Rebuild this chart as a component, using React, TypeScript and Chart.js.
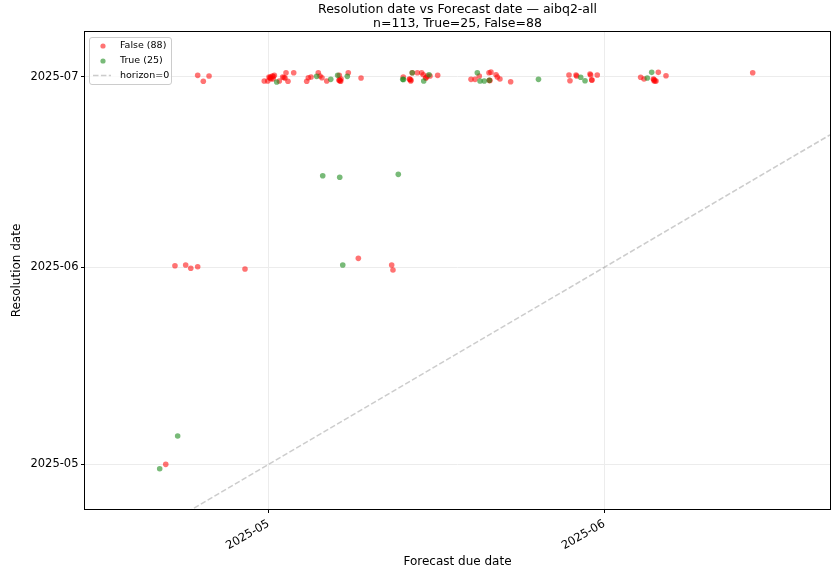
import React, { useEffect, useRef } from 'react';
import { Chart, registerables } from 'chart.js';

Chart.register(...registerables);

// All positions are days since 2025-05-01
const X_MIN = -16.97;
const X_MAX = 51.85;
const Y_MIN = -7.03;
const Y_MAX = 68.04;

const xTickValues = [0, 31];
const xTickLabels = ['2025-05', '2025-06'];
const yTickValues = [0, 31, 61];
const yTickLabels = ['2025-05', '2025-06', '2025-07'];

const falseX = [
  -6.56, -6.04, -5.51,
  -0.41, -0.09, 0.12, 0.33, 0.52, 0.21, 0.98, 1.29, 1.51, 1.6, 1.78, 2.31, 0.03, 0.4,
  3.51, 3.66, 3.91, 4.58, 4.74, 4.92, 5.36, 6.52, 6.49, 6.65, 6.68, 7.35, 8.53,
  12.43, 13.05, 13.12, 13.26, 13.73, 14.13, 14.28, 14.5, 14.65, 14.9, 15.61,
  18.69, 19.06, 19.45, 20.35, 20.53, 20.38, 21.0, 21.12, 21.36, 22.35,
  27.74, 27.83, 28.39, 28.45, 29.68, 29.74, 29.84, 30.35,
  34.36, 34.67, 35.53, 35.59, 35.78, 35.99, 36.7,
  44.71,
  -8.66, -7.67, -7.2, -6.56, -2.19, 8.28, 11.36, 11.48,
  -9.51,
  6.59, 0.17, 0.44, 13.14, 20.44, 35.68, 29.86, 1.41, 14.53,
  6.55, 35.6, 13.0,
];
const falseY = [
  61.22, 60.28, 61.11,
  60.32, 60.32, 60.8, 61.11, 61.22, 60.67, 60.32, 60.95, 60.8, 61.63, 60.28, 61.63, 60.95, 60.64,
  60.28, 60.84, 60.95, 61.63, 61.11, 60.84, 60.32, 61.22, 60.43, 60.28, 60.64, 61.63, 60.8,
  60.95, 60.59, 60.32, 61.63, 61.63, 61.63, 61.32, 60.84, 61.11, 61.11, 61.22,
  60.59, 60.59, 61.11, 61.63, 61.72, 60.43, 61.32, 60.95, 60.64, 60.21,
  61.27, 60.37, 61.27, 61.11, 61.43, 61.27, 60.48, 61.27,
  60.91, 60.64, 60.64, 60.37, 60.32, 61.69, 61.16,
  61.63,
  31.26, 31.37, 30.85, 31.1, 30.74, 32.42, 31.37, 30.58,
  0.0,
  60.36, 60.95, 61.03, 60.48, 60.4, 60.32, 60.48, 60.88, 60.8,
  60.5, 60.55, 60.62,
];

const trueX = [
  4.99, 6.56, 11.97,
  6.84,
  -8.41, -10.07,
  0.74, 4.43, 5.73, 6.37, 7.26, 12.38, 13.26, 14.32, 14.81, 19.27, 19.52, 19.91, 20.38,
  24.92, 28.82, 29.22, 34.97, 35.38,
  12.45,
];
const trueY = [
  45.42, 45.17, 45.64,
  31.37,
  4.45, -0.69,
  60.17, 61.06, 60.59, 61.22, 61.06, 60.59, 61.63, 60.32, 61.32, 61.63, 60.32, 60.32, 60.43,
  60.59, 60.91, 60.37, 60.8, 61.69,
  60.56,
];

const horizonX = [X_MIN, X_MAX];

const RED = 'rgba(255,0,0,0.55)';
const GREEN = 'rgba(30,140,30,0.6)';
const HORIZON = 'rgba(128,128,128,0.4)';
const FONT = '"DejaVu Sans", sans-serif';

const decorPlugin = {
  id: 'decor',
  afterDraw(chart: any) {
    const { ctx, chartArea } = chart;
    const { left, top, right, bottom } = chartArea;
    ctx.save();
    // frame
    ctx.strokeStyle = '#000';
    ctx.lineWidth = 1;
    ctx.strokeRect(Math.round(left) - 0.5, Math.round(top) - 0.5, Math.round(right - left) + 1, Math.round(bottom - top) + 1);

    // legend
    const lx = left + 4;
    const ly = top + 5;
    const lw = 82;
    const lh = 47;
    ctx.beginPath();
    ctx.roundRect(lx + 0.5, ly + 0.5, lw, lh, 2.5);
    ctx.fillStyle = 'rgba(255,255,255,0.8)';
    ctx.fill();
    ctx.strokeStyle = '#cccccc';
    ctx.lineWidth = 1;
    ctx.stroke();

    const rows = [ly + 9, ly + 24, ly + 38.5];
    ctx.fillStyle = RED;
    ctx.beginPath();
    ctx.arc(lx + 14, rows[0], 2.6, 0, Math.PI * 2);
    ctx.fill();
    ctx.fillStyle = GREEN;
    ctx.beginPath();
    ctx.arc(lx + 14, rows[1], 2.6, 0, Math.PI * 2);
    ctx.fill();
    ctx.strokeStyle = HORIZON;
    ctx.lineWidth = 1.5;
    ctx.setLineDash([5.5, 2.4]);
    ctx.beginPath();
    ctx.moveTo(lx + 4, rows[2]);
    ctx.lineTo(lx + 22, rows[2]);
    ctx.stroke();
    ctx.setLineDash([]);

    ctx.fillStyle = '#000';
    ctx.font = `9.5px ${FONT}`;
    ctx.textAlign = 'left';
    ctx.textBaseline = 'middle';
    ctx.fillText(`False (${falseX.length})`, lx + 31, rows[0]);
    ctx.fillText(`True (${trueX.length})`, lx + 31, rows[1]);
    ctx.fillText('horizon=0', lx + 31, rows[2]);

    // titles
    const cx = (left + right) / 2;
    ctx.textAlign = 'center';
    ctx.font = `12.5px ${FONT}`;
    ctx.fillText('Resolution date vs Forecast date \u2014 aibq2-all', cx, 9.5);
    ctx.fillText(
      `n=${falseX.length + trueX.length}, True=${trueX.length}, False=${falseX.length}`,
      cx,
      23.5
    );

    // axis titles
    ctx.font = `12px ${FONT}`;
    ctx.fillText('Forecast due date', cx, 562);
    ctx.translate(17, (top + bottom) / 2);
    ctx.rotate(-Math.PI / 2);
    ctx.fillText('Resolution date', 0, 0);
    ctx.restore();
  },
};

export default function App() {
  const ref = useRef<HTMLCanvasElement | null>(null);

  useEffect(() => {
    if (!ref.current) return;
    const falseData = falseX.map((x, i) => ({ x, y: falseY[i] }));
    const trueData = trueX.map((x, i) => ({ x, y: trueY[i] }));
    const horizonData = horizonX.map((x) => ({ x, y: x }));

    const chart = new Chart(ref.current, {
      type: 'scatter',
      data: {
        datasets: [
          {
            label: 'False',
            data: falseData,
            backgroundColor: RED,
            borderWidth: 0,
            pointRadius: 2.8,
            order: 1,
          },
          {
            label: 'True',
            data: trueData,
            backgroundColor: GREEN,
            borderWidth: 0,
            pointRadius: 2.8,
            order: 0,
          },
          {
            label: 'horizon=0',
            data: horizonData,
            showLine: true,
            borderColor: HORIZON,
            borderWidth: 1.5,
            borderDash: [5.5, 2.4],
            pointRadius: 0,
            order: 2,
          } as any,
        ],
      },
      options: {
        animation: false,
        responsive: false,
        events: [],
        layout: { autoPadding: false, padding: { top: 32, right: 1, left: 0, bottom: 0 } },
        plugins: {
          legend: { display: false },
          title: { display: false },
          tooltip: { enabled: false },
        },
        scales: {
          x: {
            type: 'linear',
            min: X_MIN,
            max: X_MAX,
            afterBuildTicks: (s: any) => {
              s.ticks = xTickValues.map((v) => ({ value: v }));
            },
            afterFit: (s: any) => {
              s.height = 64;
              s.paddingLeft = 0;
              s.paddingRight = 0;
            },
            ticks: {
              autoSkip: false,
              minRotation: 30,
              maxRotation: 30,
              padding: 4,
              color: '#000',
              font: { family: FONT, size: 11.5 },
              callback: (v: any) => xTickLabels[xTickValues.indexOf(Number(v))] ?? '',
            },
            grid: {
              color: '#ececec',
              lineWidth: 1,
              tickColor: '#000',
              tickLength: 4,
            },
            border: { display: false },
          },
          y: {
            type: 'linear',
            min: Y_MIN,
            max: Y_MAX,
            afterBuildTicks: (s: any) => {
              s.ticks = yTickValues.map((v) => ({ value: v }));
            },
            afterFit: (s: any) => {
              s.width = 85;
              s.paddingTop = 0;
              s.paddingBottom = 0;
            },
            ticks: {
              autoSkip: false,
              padding: 2.5,
              color: '#000',
              font: { family: FONT, size: 11.5 },
              callback: (v: any) => yTickLabels[yTickValues.indexOf(Number(v))] ?? '',
            },
            grid: {
              color: '#ececec',
              lineWidth: 1,
              tickColor: '#000',
              tickLength: 4,
            },
            border: { display: false },
          },
        },
      },
      plugins: [decorPlugin],
    });
    return () => chart.destroy();
  }, []);

  return (
    <div style={{ position: 'fixed', left: 0, top: 0, width: 831, height: 573, background: '#fff' }}>
      <canvas ref={ref} width={831} height={573} style={{ display: 'block', width: 831, height: 573 }} />
    </div>
  );
}
